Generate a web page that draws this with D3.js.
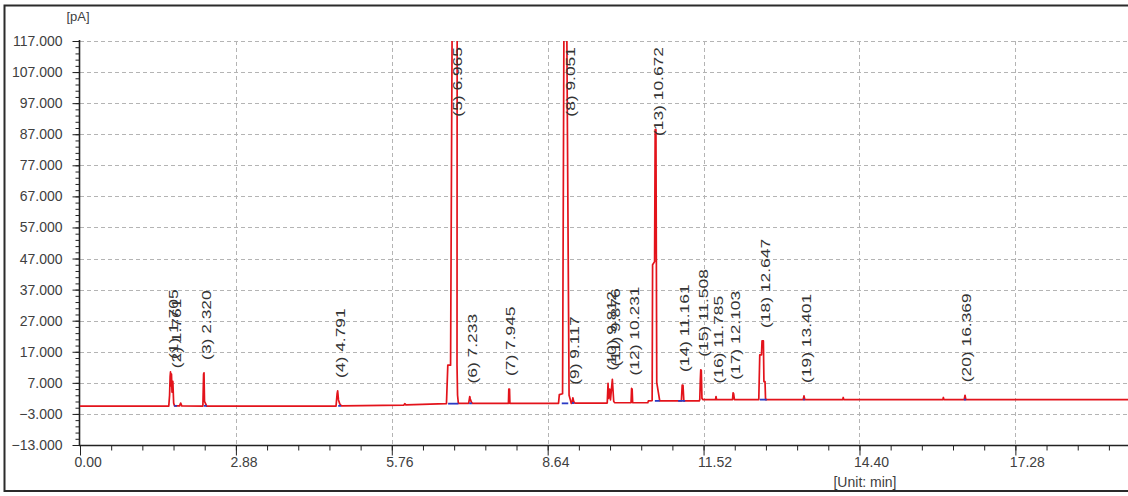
<!DOCTYPE html>
<html>
<head>
<meta charset="utf-8">
<script src="https://cdn.jsdelivr.net/npm/d3@7"></script>
<style>
  body { margin: 0; background: #fff; }
  text { font-family: "Liberation Sans", Arial, sans-serif; }
</style>
</head>
<body>
<div id="chart"></div>
<script>
// axis ticks
var yTicks = [117, 107, 97, 87, 77, 67, 57, 47, 37, 27, 17, 7, -3, -13];
var xTicks = [0, 2.88, 5.76, 8.64, 11.52, 14.40, 17.28];

// peak table: number and retention time (min)
var peakIds = [1, 2, 3, 4, 5, 6, 7, 8, 9, 10, 11, 12, 13, 14, 15, 16, 17, 18, 19, 20];
var peakTimes = [1.705, 1.761, 2.320, 4.791, 6.965, 7.233, 7.945, 9.051, 9.117, 9.812,
                 9.876, 10.231, 10.672, 11.161, 11.508, 11.785, 12.103, 12.647, 13.401, 16.369];

// detector trace [min, pA] (big peaks run off scale)
var trace = [
  [0.00, -0.5], [1.64, -0.5], [1.655, 3], [1.665, 9], [1.672, 10.5], [1.68, 6], [1.69, 9.8],
  [1.70, 4], [1.715, 7.5], [1.73, 0.5], [1.745, -0.4], [1.84, -0.4], [1.86, 0.5], [1.88, -0.4],
  [2.27, -0.5], [2.283, 9.8], [2.291, 10.2], [2.30, 1.0], [2.32, 0.3], [2.34, -0.5],
  [4.73, -0.5], [4.75, 3.5], [4.76, 4.4], [4.775, 1.5], [4.80, 0.2], [4.83, -0.4],
  [5.98, -0.2], [6.0, 0.3], [6.02, -0.1],
  [6.77, 0.3], [6.795, 12.7], [6.846, 12.7], [6.877, 130], [6.968, 130], [6.965, 12.7],
  [6.975, 3], [6.99, 0.4],
  [7.18, 0.4], [7.20, 2.6], [7.21, 1.8], [7.23, 0.8], [7.25, 0.4],
  [7.915, 0.4], [7.922, 5.0], [7.935, 5.0], [7.942, 0.4],
  [8.84, 0.4], [8.855, 3.2], [8.915, 3.5], [8.942, 130], [8.99, 130], [9.035, 3],
  [9.06, 1.5], [9.075, 0.4], [9.09, 0.5], [9.105, 2.2], [9.12, 1.0], [9.14, 0.5],
  [9.74, 0.5], [9.755, 6.8], [9.765, 2], [9.785, 5], [9.80, 1.5], [9.835, 8.1], [9.845, 5.2],
  [9.86, 1], [9.88, 0.6],
  [10.18, 0.6], [10.19, 5.2], [10.20, 5.0], [10.21, 0.6],
  [10.49, 0.6], [10.50, 1.2], [10.57, 1.3], [10.578, 45], [10.615, 46], [10.626, 88.5],
  [10.64, 88.5], [10.655, 7], [10.665, 6], [10.71, 1.2],
  [11.11, 1.2], [11.125, 6.3], [11.14, 6.2], [11.155, 1.2],
  [11.44, 1.2], [11.45, 1.6], [11.46, 8], [11.468, 11.2], [11.478, 11.0], [11.49, 2], [11.51, 1.6],
  [11.74, 1.6], [11.75, 2.6], [11.76, 1.6],
  [12.055, 1.6], [12.065, 3.8], [12.075, 3.5], [12.09, 1.6],
  [12.54, 1.6], [12.558, 16], [12.59, 16], [12.60, 20.5], [12.625, 20.5], [12.635, 7.4],
  [12.655, 7.4], [12.665, 1.6],
  [13.36, 1.6], [13.375, 2.8], [13.39, 1.6],
  [14.09, 1.6], [14.10, 2.3], [14.11, 1.6],
  [15.94, 1.6], [15.95, 2.3], [15.96, 1.6],
  [16.335, 1.6], [16.35, 3.0], [16.365, 1.6],
  [19.4, 1.6]
];

// integration baselines [start, end, pA]
var integration = [
  [1.74, 1.79, -0.4], [2.29, 2.34, -0.4], [4.77, 4.82, -0.4], [6.80, 6.99, 0.3],
  [7.19, 7.24, 0.4], [8.90, 9.02, 0.4], [9.09, 9.13, 0.5], [10.62, 10.71, 1.2],
  [11.05, 11.18, 1.2], [12.56, 12.69, 1.6], [13.36, 13.39, 1.6], [16.33, 16.37, 1.6]
];

var W = 1128, H = 496;
var plotLeft = 80, plotTop = 41, plotBottom = 445;

var svg = d3.select("#chart").append("svg")
  .attr("width", W).attr("height", H);

var x = d3.scaleLinear().domain([0, 19.4]).range([plotLeft, plotLeft + 19.4 * 54.13]);
var y = d3.scaleLinear().domain([-13, 117]).range([plotBottom, plotTop]);

// outer frame
svg.append("rect")
  .attr("x", 4.5).attr("y", 5.5).attr("width", 1140).attr("height", 485.5)
  .attr("fill", "none").attr("stroke", "#2b2b2b").attr("stroke-width", 2);

// grid
svg.append("g").selectAll("line")
  .data(yTicks.filter(function(d) { return d > -13; }))
  .enter().append("line")
    .attr("x1", plotLeft).attr("x2", W)
    .attr("y1", function(d) { return Math.round(y(d)) + 0.5; })
    .attr("y2", function(d) { return Math.round(y(d)) + 0.5; })
    .attr("stroke", "#b4b4b4").attr("stroke-dasharray", "4,3");
svg.append("g").selectAll("line")
  .data(xTicks.filter(function(d) { return d > 0; }))
  .enter().append("line")
    .attr("y1", plotTop).attr("y2", plotBottom)
    .attr("x1", function(d) { return Math.round(x(d)) + 0.5; })
    .attr("x2", function(d) { return Math.round(x(d)) + 0.5; })
    .attr("stroke", "#b4b4b4").attr("stroke-dasharray", "4,3");

// minor ticks
svg.append("g")
  .attr("transform", "translate(" + (plotLeft - 0.5) + ",0)")
  .call(d3.axisLeft(y).tickValues(d3.range(-13, 118, 2)).tickSize(4).tickSizeOuter(0).tickFormat(""))
  .call(function(g) { g.select(".domain").remove(); g.selectAll("line").attr("stroke", "#222"); });
svg.append("g")
  .attr("transform", "translate(0," + (plotBottom + 0.5) + ")")
  .call(d3.axisBottom(x).tickValues(d3.range(0, 19.4, 0.576)).tickSize(5).tickSizeOuter(0).tickFormat(""))
  .call(function(g) { g.select(".domain").remove(); g.selectAll("line").attr("stroke", "#222"); });

// y axis
var yAxis = svg.append("g")
  .attr("transform", "translate(" + (plotLeft - 0.5) + ",0)")
  .call(d3.axisLeft(y).tickValues(yTicks).tickSize(7).tickSizeOuter(0).tickPadding(10)
    .tickFormat(d3.format(".3f")));
yAxis.select(".domain").attr("stroke", "#222").attr("stroke-width", 1.6)
  .attr("d", "M0," + (plotTop - 1) + "V" + plotBottom);
yAxis.selectAll("line").attr("stroke", "#222");
yAxis.selectAll("text").attr("font-size", 14).attr("fill", "#404040")
  .attr("font-family", "'Liberation Sans', Arial, sans-serif");

// x axis
var xAxis = svg.append("g")
  .attr("transform", "translate(0," + (plotBottom + 0.5) + ")")
  .call(d3.axisBottom(x).tickValues(xTicks).tickSize(10).tickSizeOuter(0)
    .tickFormat(d3.format(".2f")));
xAxis.select(".domain").attr("stroke", "#222").attr("stroke-width", 1.6)
  .attr("d", "M" + (plotLeft - 1) + ",0H" + W);
xAxis.selectAll("line").attr("stroke", "#222");
xAxis.selectAll("text").attr("font-size", 14).attr("fill", "#404040")
  .attr("font-family", "'Liberation Sans', Arial, sans-serif")
  .attr("text-anchor", "start").attr("x", -6).attr("y", 12);

// unit labels
svg.append("text").attr("x", 78).attr("y", 21).attr("text-anchor", "middle")
  .attr("font-size", 13).attr("fill", "#404040").text("[pA]");
svg.append("text").attr("x", 865).attr("y", 487).attr("text-anchor", "middle")
  .attr("font-size", 14).attr("fill", "#404040").text("[Unit: min]");

// trace
svg.append("clipPath").attr("id", "plot")
  .append("rect").attr("x", plotLeft).attr("y", plotTop)
  .attr("width", W - plotLeft).attr("height", plotBottom - plotTop);

var line = d3.line()
  .x(function(d) { return x(d[0]); })
  .y(function(d) { return y(d[1]); });

svg.append("path")
  .datum(trace)
  .attr("clip-path", "url(#plot)")
  .attr("d", line)
  .attr("fill", "none")
  .attr("stroke", "#e3131b")
  .attr("stroke-width", 1.7)
  .attr("stroke-linejoin", "round");

svg.append("g").selectAll("line")
  .data(integration)
  .enter().append("line")
    .attr("x1", function(d) { return x(d[0]); })
    .attr("x2", function(d) { return x(d[1]); })
    .attr("y1", function(d) { return y(d[2]); })
    .attr("y2", function(d) { return y(d[2]); })
    .attr("stroke", "#2b3ac4").attr("stroke-width", 1.8);

// peak labels
var labels = svg.append("g");
peakIds.forEach(function(id, i) {
  var rt = peakTimes[i];
  var apex = d3.max(trace.filter(function(p) { return p[0] >= rt - 0.07 && p[0] <= rt + 0.02; }),
                    function(p) { return p[1]; });
  var t = labels.append("text")
    .attr("font-size", 12).attr("fill", "#333")
    .text("(" + id + ") " + rt.toFixed(3));
  var len = t.node().getComputedTextLength() * 1.45;
  var start = Math.max(y(apex), plotTop) - 13;
  if (start - len < 47) start = 47 + len;
  t.attr("transform", "translate(" + (x(rt) + 5.3) + "," + start + ") rotate(-90) scale(1.45,1)");
});
</script>
</body>
</html>
